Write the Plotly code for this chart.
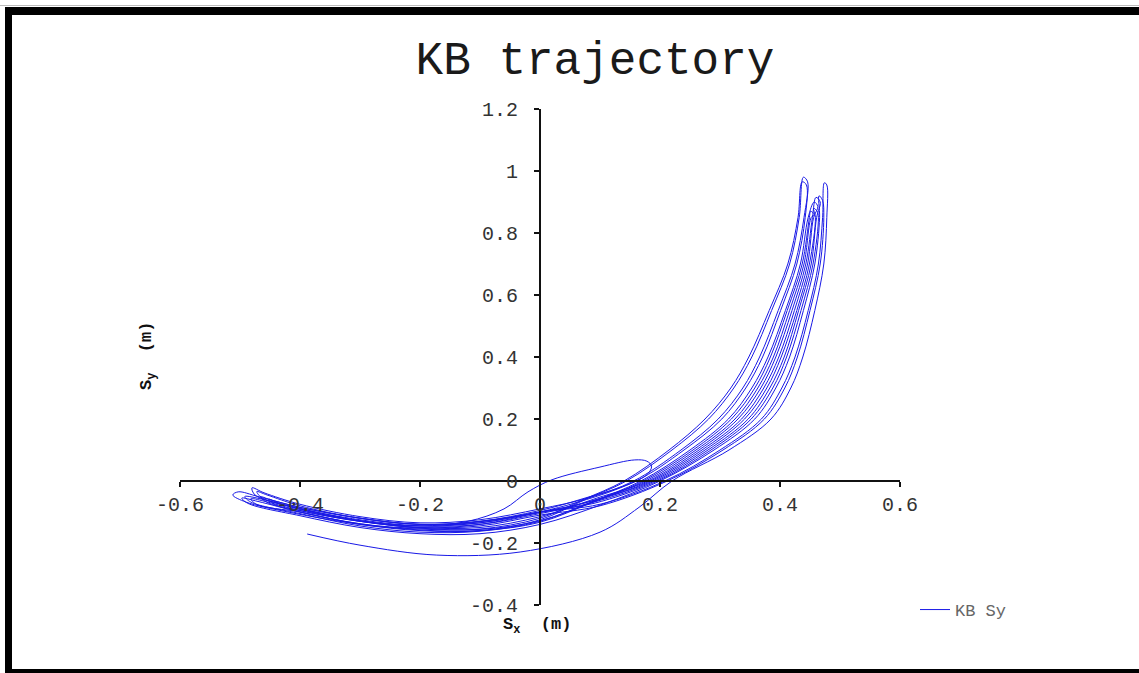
import plotly.graph_objects as go

# ---------------- data ----------------
swing_start = [(-0.388, -0.171), (-0.3, -0.207), (-0.172, -0.239), (-0.033, -0.229), (0.1, -0.165),
               (0.165, -0.085), (0.22, 0.0), (0.315, 0.1), (0.385, 0.2), (0.418, 0.3), (0.438, 0.4),
               (0.458, 0.55), (0.473, 0.7), (0.478, 0.85), (0.478, 0.955)]
down_0 = [(0.474, 0.962), (0.471, 0.85), (0.464, 0.7), (0.447, 0.55), (0.425, 0.4), (0.403, 0.3),
          (0.369, 0.2), (0.30, 0.1), (0.208, 0.0), (0.1, -0.075), (0.0, -0.1), (-0.1, -0.135),
          (-0.2, -0.14), (-0.3, -0.12), (-0.4, -0.085), (-0.47, -0.05), (-0.503, -0.035)]
up_1 = [(-0.512, -0.045), (-0.49, -0.068), (-0.42, -0.1), (-0.3, -0.14), (-0.2, -0.16), (-0.1, -0.16),
        (0.0, -0.125), (0.075, -0.06), (0.144, 0.0), (0.22, 0.1), (0.281, 0.2), (0.323, 0.3),
        (0.353, 0.4), (0.386, 0.55), (0.416, 0.7), (0.432, 0.85), (0.439, 0.98)]
down_1 = [(0.446, 0.965), (0.44, 0.85), (0.425, 0.7), (0.397, 0.55), (0.366, 0.4), (0.338, 0.3),
          (0.297, 0.2), (0.235, 0.1), (0.156, 0.0), (0.08, -0.055), (0.0, -0.09), (-0.1, -0.125),
          (-0.2, -0.135), (-0.3, -0.115), (-0.4, -0.075), (-0.46, -0.038), (-0.48, -0.022)]
up_2 = [(-0.475, -0.045), (-0.4, -0.09), (-0.3, -0.13), (-0.2, -0.15), (-0.1, -0.15), (0.0, -0.115),
        (0.095, -0.055), (0.18, 0.0), (0.265, 0.1), (0.33, 0.2), (0.368, 0.3), (0.393, 0.4),
        (0.42, 0.55), (0.443, 0.7), (0.454, 0.85), (0.46, 0.915)]
down_2 = [(0.467, 0.9), (0.461, 0.85), (0.452, 0.7), (0.431, 0.55), (0.407, 0.4), (0.383, 0.3),
          (0.347, 0.2), (0.28, 0.1), (0.192, 0.0), (0.09, -0.068), (0.0, -0.105), (-0.1, -0.14),
          (-0.2, -0.145), (-0.3, -0.125), (-0.4, -0.09), (-0.46, -0.06), (-0.492, -0.05)]
up_3 = [(-0.482, -0.068), (-0.4, -0.105), (-0.3, -0.145), (-0.2, -0.165), (-0.1, -0.162), (0.0, -0.13),
        (0.085, -0.068), (0.168, 0.0), (0.25, 0.1), (0.314, 0.2), (0.353, 0.3), (0.38, 0.4),
        (0.409, 0.55), (0.434, 0.7), (0.447, 0.85), (0.457, 0.9)]
down_3 = [(0.463, 0.885), (0.456, 0.85), (0.446, 0.7), (0.424, 0.55), (0.398, 0.4), (0.373, 0.3),
          (0.336, 0.2), (0.27, 0.1), (0.184, 0.0), (0.085, -0.065), (0.0, -0.1), (-0.1, -0.13),
          (-0.2, -0.14), (-0.3, -0.12), (-0.4, -0.085), (-0.45, -0.06), (-0.466, -0.05)]
up_4 = [(-0.456, -0.068), (-0.4, -0.096), (-0.3, -0.13), (-0.2, -0.145), (-0.12, -0.13), (-0.06, -0.09),
        (-0.02, -0.035), (0.02, 0.004), (0.1, 0.045), (0.158, 0.068), (0.178, 0.064), (0.186, 0.048)]
down_4 = [(0.178, 0.02), (0.13, -0.025), (0.06, -0.07), (0.0, -0.1), (-0.1, -0.14), (-0.2, -0.152),
          (-0.3, -0.138), (-0.4, -0.1), (-0.47, -0.066), (-0.497, -0.055)]
up_5 = [(-0.487, -0.072), (-0.4, -0.112), (-0.3, -0.15), (-0.2, -0.17), (-0.1, -0.17), (0.0, -0.14),
        (0.1, -0.078), (0.2, 0.0), (0.29, 0.1), (0.358, 0.2), (0.393, 0.3), (0.416, 0.4),
        (0.439, 0.55), (0.458, 0.7), (0.466, 0.85), (0.465, 0.92)]
down_5 = [(0.471, 0.905), (0.473, 0.85), (0.467, 0.7), (0.45, 0.55), (0.429, 0.4), (0.408, 0.3),
          (0.374, 0.2), (0.305, 0.1), (0.212, 0.0), (0.1, -0.08), (0.0, -0.11), (-0.1, -0.145),
          (-0.2, -0.15), (-0.3, -0.13), (-0.4, -0.095), (-0.46, -0.065), (-0.482, -0.057)]
up_6 = [(-0.472, -0.076), (-0.4, -0.1), (-0.3, -0.14), (-0.2, -0.155), (-0.1, -0.155), (0.0, -0.12),
        (0.072, -0.06), (0.14, 0.0), (0.215, 0.1), (0.275, 0.2), (0.318, 0.3), (0.348, 0.4),
        (0.382, 0.55), (0.413, 0.7), (0.43, 0.85), (0.437, 0.965)]
down_6 = [(0.444, 0.955), (0.442, 0.85), (0.428, 0.7), (0.401, 0.55), (0.371, 0.4), (0.343, 0.3),
          (0.303, 0.2), (0.24, 0.1), (0.16, 0.0), (0.07, -0.058), (0.0, -0.095), (-0.1, -0.13),
          (-0.2, -0.14), (-0.3, -0.12), (-0.4, -0.08), (-0.455, -0.045), (-0.472, -0.034)]
up_7 = [(-0.463, -0.055), (-0.4, -0.088), (-0.3, -0.128), (-0.2, -0.152), (-0.1, -0.156), (0.0, -0.128),
        (0.095, -0.063), (0.188, 0.0), (0.275, 0.1), (0.341, 0.2), (0.378, 0.3), (0.402, 0.4),
        (0.428, 0.55), (0.449, 0.7), (0.459, 0.85), (0.456, 0.88)]
down_7 = [(0.462, 0.87), (0.464, 0.85), (0.455, 0.7), (0.435, 0.55), (0.411, 0.4), (0.388, 0.3),
          (0.352, 0.2), (0.285, 0.1), (0.196, 0.0), (0.09, -0.072), (0.0, -0.1), (-0.1, -0.135),
          (-0.2, -0.145), (-0.3, -0.128), (-0.4, -0.092), (-0.44, -0.068), (-0.452, -0.058)]
up_8 = [(-0.443, -0.075), (-0.4, -0.1), (-0.3, -0.138), (-0.2, -0.158), (-0.1, -0.16), (0.0, -0.133),
        (0.088, -0.068), (0.172, 0.0), (0.255, 0.1), (0.319, 0.2), (0.358, 0.3), (0.384, 0.4),
        (0.412, 0.55), (0.437, 0.7), (0.449, 0.85), (0.451, 0.87)]
down_8 = [(0.457, 0.86), (0.452, 0.85), (0.44, 0.7), (0.416, 0.55), (0.389, 0.4), (0.363, 0.3),
          (0.325, 0.2), (0.26, 0.1), (0.176, 0.0), (0.08, -0.068), (-0.05, -0.118), (-0.15, -0.142)]

x_ticks = [-0.6, -0.4, -0.2, 0, 0.2, 0.4, 0.6]
x_tick_labels = ["-0.6", "-0.4", "-0.2", "0", "0.2", "0.4", "0.6"]
y_ticks = [-0.4, -0.2, 0, 0.2, 0.4, 0.6, 0.8, 1, 1.2]
y_tick_labels = ["-0.4", "-0.2", "0", "0.2", "0.4", "0.6", "0.8", "1", "1.2"]
series_name = "KB Sy"
title_text = "KB trajectory"

# ---------------- build ----------------
segments = [swing_start, down_0, up_1, down_1, up_2, down_2, up_3, down_3, up_4, down_4,
            up_5, down_5, up_6, down_6, up_7, down_7, up_8, down_8]
sx, sy = [], []
for seg in segments:
    for px_, py_ in seg:
        sx.append(px_)
        sy.append(py_)

W, H = 1139, 673
L, R, T, B = 180, 239, 109, 68
plot_w = W - L - R
plot_h = H - T - B


def px2paper_x(p):
    return (p - L) / plot_w


def px2paper_y(p):
    return (H - B - p) / plot_h


MONO = "Liberation Mono, Courier New, monospace"

fig = go.Figure()
fig.add_trace(go.Scatter(
    x=sx, y=sy, mode="lines", name=series_name,
    line=dict(color="rgb(25,25,230)", width=1, shape="spline", smoothing=1.0),
    showlegend=True,
))

axis_common = dict(
    showgrid=False, zeroline=False, showline=True, linecolor="#111", linewidth=2,
    ticks="outside", ticklen=5, tickwidth=1.5, tickcolor="#111",
    tickfont=dict(family=MONO, size=20, color="#333"),
    anchor="free",
)

fig.update_layout(
    width=W, height=H,
    margin=dict(l=L, r=R, t=T, b=B, pad=0),
    paper_bgcolor="white", plot_bgcolor="white",
    title=dict(text=title_text, x=595 / W, xanchor="center", y=1 - 58 / H, yanchor="middle",
               font=dict(family=MONO, size=46, color="#1a1a1a")),
    xaxis=dict(range=[-0.6, 0.6], tickvals=x_ticks, ticktext=x_tick_labels,
               position=(0 - (-0.4)) / 1.6, ticklabelstandoff=0, **axis_common),
    yaxis=dict(range=[-0.4, 1.2], tickvals=y_ticks, ticktext=y_tick_labels,
               position=0.5, ticklabelstandoff=12, **axis_common),
    legend=dict(x=px2paper_x(915), y=px2paper_y(610), xanchor="left", yanchor="middle",
                font=dict(family=MONO, size=17, color="#666"), bgcolor="rgba(0,0,0,0)"),
    showlegend=True,
)

fig.add_annotation(text="S<sub>x</sub>  (m)", xref="paper", yref="paper",
                   x=px2paper_x(537), y=px2paper_y(626), showarrow=False,
                   font=dict(family=MONO, size=17, color="#111", weight="bold"),
                   xanchor="center", yanchor="middle")
fig.add_annotation(text="S<sub>y</sub>  (m)", xref="paper", yref="paper",
                   x=px2paper_x(148), y=px2paper_y(356), showarrow=False, textangle=-90,
                   font=dict(family=MONO, size=17, color="#111", weight="bold"),
                   xanchor="center", yanchor="middle")

# black frame (top, left, bottom) around the picture
frame = dict(type="rect", xref="paper", yref="paper", fillcolor="black", line=dict(width=0),
             layer="above")
fig.add_shape(**frame, x0=px2paper_x(5), x1=px2paper_x(W + 2), y0=px2paper_y(15), y1=px2paper_y(7))
fig.add_shape(**frame, x0=px2paper_x(5), x1=px2paper_x(12), y0=px2paper_y(H + 2), y1=px2paper_y(7))
fig.add_shape(**frame, x0=px2paper_x(5), x1=px2paper_x(W + 2), y0=px2paper_y(H + 2), y1=px2paper_y(669))
fig.add_shape(type="line", xref="paper", yref="paper", x0=px2paper_x(0), x1=px2paper_x(W),
              y0=px2paper_y(5.5), y1=px2paper_y(5.5), line=dict(color="#bbb", width=1))

fig.write_html("out.html", config={"displayModeBar": False},
               post_script="document.body.style.margin='0';document.body.style.overflow='hidden';")
